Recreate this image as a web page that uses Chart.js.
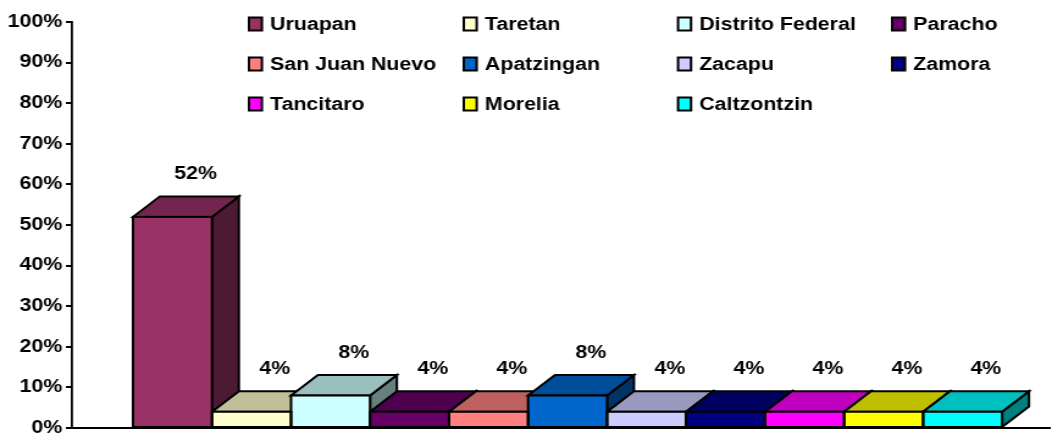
<!DOCTYPE html>
<html>
<head>
<meta charset="utf-8">
<script src="https://cdn.jsdelivr.net/npm/chart.js@4.4.0/dist/chart.umd.min.js"></script>
<style>
  html, body { margin: 0; padding: 0; background: #fff; overflow: hidden; }
  /* the reference looks horizontally stretched, so draw narrow and stretch */
  #chart { display: block; transform: scaleX(1.2204); transform-origin: 0 0; }
</style>
</head>
<body>
<canvas id="chart" width="862" height="433"></canvas>
<script>
const places = ["Uruapan", "Taretan", "Distrito Federal", "Paracho", "San Juan Nuevo",
  "Apatzingan", "Zacapu", "Zamora", "Tancitaro", "Morelia", "Caltzontzin"];
const shares = [52, 4, 8, 4, 4, 8, 4, 4, 4, 4, 4];
const colors = ["#993366", "#FFFFCC", "#CCFFFF", "#660066", "#FF8080",
  "#0066CC", "#CCCCFF", "#000080", "#FF00FF", "#FFFF00", "#00FFFF"];

const FONT = { family: "'Liberation Sans', Arial, sans-serif", weight: "bold", size: 17.5 };
const DX = 22, DY = 20.5; // 3d depth offset

function shade(hex, f) {
  const n = parseInt(hex.slice(1), 16);
  const r = Math.round(((n >> 16) & 255) * f);
  const g = Math.round(((n >> 8) & 255) * f);
  const b = Math.round((n & 255) * f);
  return `rgb(${r},${g},${b})`;
}

function barBox(chart, i) {
  const bar = chart.getDatasetMeta(i).data[0];
  const { x, y, base, width } = bar.getProps(["x", "y", "base", "width"], true);
  return { l: x - width / 2, r: x + width / 2, x, y, base };
}

const bar3d = {
  id: "bar3d",
  beforeDatasetsDraw(chart) {
    const ctx = chart.ctx;
    ctx.save();
    ctx.lineWidth = 2;
    ctx.strokeStyle = "#000";
    ctx.lineJoin = "miter";
    chart.data.datasets.forEach((ds, i) => {
      const { l, r, y, base } = barBox(chart, i);
      // side face
      ctx.beginPath();
      ctx.moveTo(r, y);
      ctx.lineTo(r + DX, y - DY);
      ctx.lineTo(r + DX, base - DY);
      ctx.lineTo(r, base);
      ctx.closePath();
      ctx.fillStyle = shade(colors[i], 0.5);
      ctx.fill();
      ctx.stroke();
      // top face
      ctx.beginPath();
      ctx.moveTo(l, y);
      ctx.lineTo(l + DX, y - DY);
      ctx.lineTo(r + DX, y - DY);
      ctx.lineTo(r, y);
      ctx.closePath();
      ctx.fillStyle = shade(colors[i], 0.75);
      ctx.fill();
      ctx.stroke();
    });
    ctx.restore();
  },
  afterDatasetsDraw(chart) {
    const ctx = chart.ctx;
    ctx.save();
    ctx.lineWidth = 2;
    ctx.strokeStyle = "#000";
    ctx.fillStyle = "#000";
    ctx.font = `${FONT.weight} ${FONT.size}px ${FONT.family}`;
    ctx.textAlign = "center";
    ctx.textBaseline = "middle";
    chart.data.datasets.forEach((ds, i) => {
      const { l, r, x, y, base } = barBox(chart, i);
      ctx.strokeRect(l, y, r - l, base - y);
      ctx.fillText(shares[i] + "%", x + 19, y - DY - 22);
    });
    ctx.restore();
  },
  afterDraw(chart) {
    // legend laid out in a 4 column grid, like the original
    const ctx = chart.ctx;
    const colX = [204, 380, 555.6, 731];
    const rowY = [24, 64, 104];
    ctx.save();
    ctx.font = `${FONT.weight} ${FONT.size}px ${FONT.family}`;
    ctx.textBaseline = "middle";
    ctx.textAlign = "left";
    ctx.lineWidth = 2;
    ctx.strokeStyle = "#000";
    places.forEach((name, i) => {
      const bx = colX[i % 4], cy = rowY[Math.floor(i / 4)];
      ctx.fillStyle = colors[i];
      ctx.fillRect(bx, cy - 6.5, 10.6, 13);
      ctx.strokeRect(bx, cy - 6.5, 10.6, 13);
      ctx.fillStyle = "#000";
      ctx.fillText(name, bx + 17.3, cy + 1);
    });
    ctx.restore();
  }
};

new Chart(document.getElementById("chart"), {
  type: "bar",
  data: {
    datasets: places.map((name, i) => ({
      label: name,
      data: [{ x: i, y: shares[i] }],
      backgroundColor: colors[i],
      borderWidth: 0
    }))
  },
  options: {
    responsive: false,
    animation: false,
    grouped: false,
    barPercentage: 1,
    categoryPercentage: 1,
    layout: { padding: { top: 22, bottom: 5, left: 0, right: 2 } },
    plugins: { legend: { display: false }, tooltip: { enabled: false } },
    scales: {
      x: {
        type: "linear",
        min: -1.272,
        max: 11.1,
        offset: false,
        ticks: { display: false, stepSize: 1, includeBounds: false, maxTicksLimit: 30 },
        grid: { display: false, drawTicks: false },
        border: { display: true, color: "#000", width: 2 }
      },
      y: {
        min: 0,
        max: 100,
        ticks: {
          stepSize: 10,
          color: "#000",
          font: FONT,
          padding: 3,
          callback: v => v + "%"
        },
        grid: { drawOnChartArea: false, drawTicks: true, tickLength: 5, color: "#000", lineWidth: 2 },
        border: { display: true, color: "#000", width: 1.8 },
        afterFit(axis) {
          axis.width = 59;
          axis.paddingTop = 0;
          axis.paddingBottom = 0;
        }
      }
    }
  },
  plugins: [bar3d]
});
</script>
</body>
</html>
